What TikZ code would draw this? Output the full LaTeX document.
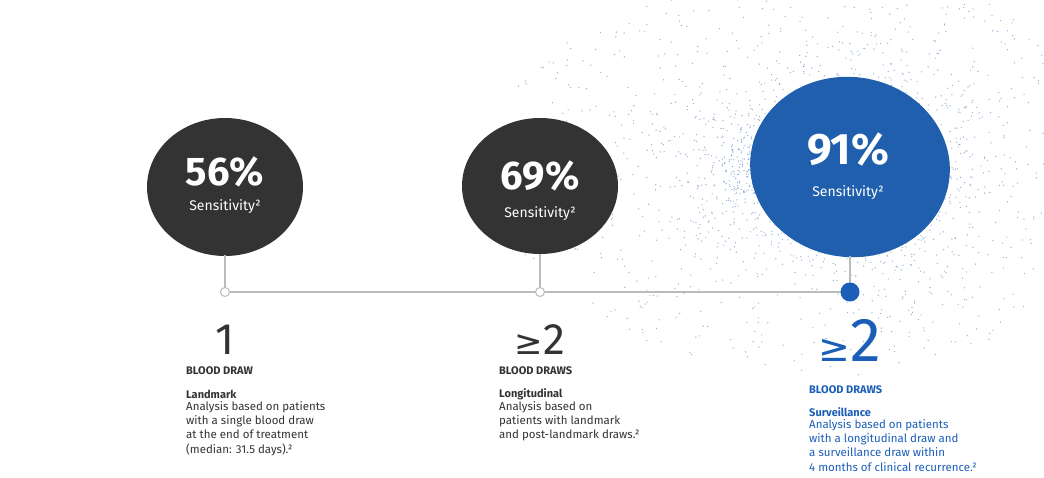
\documentclass[tikz,border=0pt]{standalone}
\usepackage{fontspec}
\usetikzlibrary{shapes.geometric}
\setmainfont{Fira Sans}
\newfontfamily\symf{DejaVu Sans}
\definecolor{dark}{HTML}{333333}
\definecolor{blu}{HTML}{1F5FAE}
\definecolor{blut}{HTML}{1A5EB8}
\definecolor{ln}{HTML}{BBBBBB}
\begin{document}
\begin{tikzpicture}[x=1pt,y=-1pt,
  pct/.style={text=white,font=\bfseries\fontsize{40}{40}\selectfont},
  sens/.style={text=white,font=\fontsize{14}{14}\selectfont},
  big/.style={font=\fontsize{44}{44}\selectfont},
  hd/.style={anchor=west,font=\bfseries\fontsize{11}{12}\selectfont,inner sep=0},
  body/.style={anchor=north west,align=left,font=\fontsize{11.5}{14.3}\selectfont,inner sep=0}]
\useasboundingbox (0,0) rectangle (1044,477);
% spray
\pgfmathsetseed{7}
\foreach \i in {1,...,2600}{
  \pgfmathsetmacro\a{rnd*360}
  \pgfmathsetmacro\R{70+190*rnd^3}
  \pgfmathsetmacro\k{cos(\a)<0 ? 1.4 : 0.95}
  \fill[blu!80,opacity=0.6] ({850+\k*\R*cos(\a)},{168+0.8*\R*sin(\a)}) circle (0.7);
}
% timeline
\draw[ln,line width=1.2] (225,292) -- (850,292);
\node[ellipse,fill=dark,minimum width=156,minimum height=138,inner sep=0] (b1) at (225,187) {};
\node[ellipse,fill=dark,minimum width=156,minimum height=136,inner sep=0] (b2) at (540,186) {};
\node[ellipse,fill=blu,minimum width=200,minimum height=180,inner sep=0,rotate=-8] (b3) at (850,167) {};
\coordinate (t1) at (225,292);\coordinate (t2) at (540,292);\coordinate (t3) at (850,292);
\draw[ln,line width=1.2] (225,255) -- (t1);
\draw[ln,line width=1.2] (540,254) -- (t2);
\draw[ln,line width=1.2] (850,256) -- (t3);
\node[circle,draw=ln,fill=white,line width=1,minimum size=9,inner sep=0] at (t1) {};
\node[circle,draw=ln,fill=white,line width=1,minimum size=9,inner sep=0] at (t2) {};
\node[circle,fill=blut,minimum size=19,inner sep=0] at (t3) {};
% blob texts
\node[pct] (p1) at (225,172) {56\%};
\node[sens] (s1) at (225,207) {Sensitivity²};
\node[pct] (p2) at (540,176) {69\%};
\node[sens] (s2) at (540,214) {Sensitivity²};
\node[pct,font=\bfseries\fontsize{44}{44}\selectfont] (p3) at (848,150) {91\%};
\node[sens] (s3) at (848,193) {Sensitivity²};
% column 1
\node[big,text=dark] (n1) at (225,340) {1};
\node[hd,text=dark] (h1) at (186,371) {BLOOD DRAW};
\node[hd,text=dark] (l1) at (186,394) {Landmark};
\node[body,text=dark] (d1) at (186,401) {Analysis based on patients\\with a single blood draw\\at the end of treatment\\(median: 31.5 days).²};
% column 2
\node[big,text=dark] (n2) at (540,340) {{\symf\fontsize{34}{34}\selectfont ≥}2};
\node[hd,text=dark] (h2) at (499,371) {BLOOD DRAWS};
\node[hd,text=dark] (l2) at (499,394) {Longitudinal};
\node[body,text=dark] (d2) at (499,401) {Analysis based on\\patients with landmark\\and post-landmark draws.²};
% column 3
\node[big,text=blut,font=\fontsize{62}{62}\selectfont] (n3) at (850,340) {{\symf\fontsize{38}{38}\selectfont ≥}2};
\node[hd,text=blut] (h3) at (809,390) {BLOOD DRAWS};
\node[hd,text=blut] (l3) at (809,412) {Surveillance};
\node[body,text=blut] (d3) at (809,419) {Analysis based on patients\\with a longitudinal draw and\\a surveillance draw within\\4 months of clinical recurrence.²};
\end{tikzpicture}
\end{document}
